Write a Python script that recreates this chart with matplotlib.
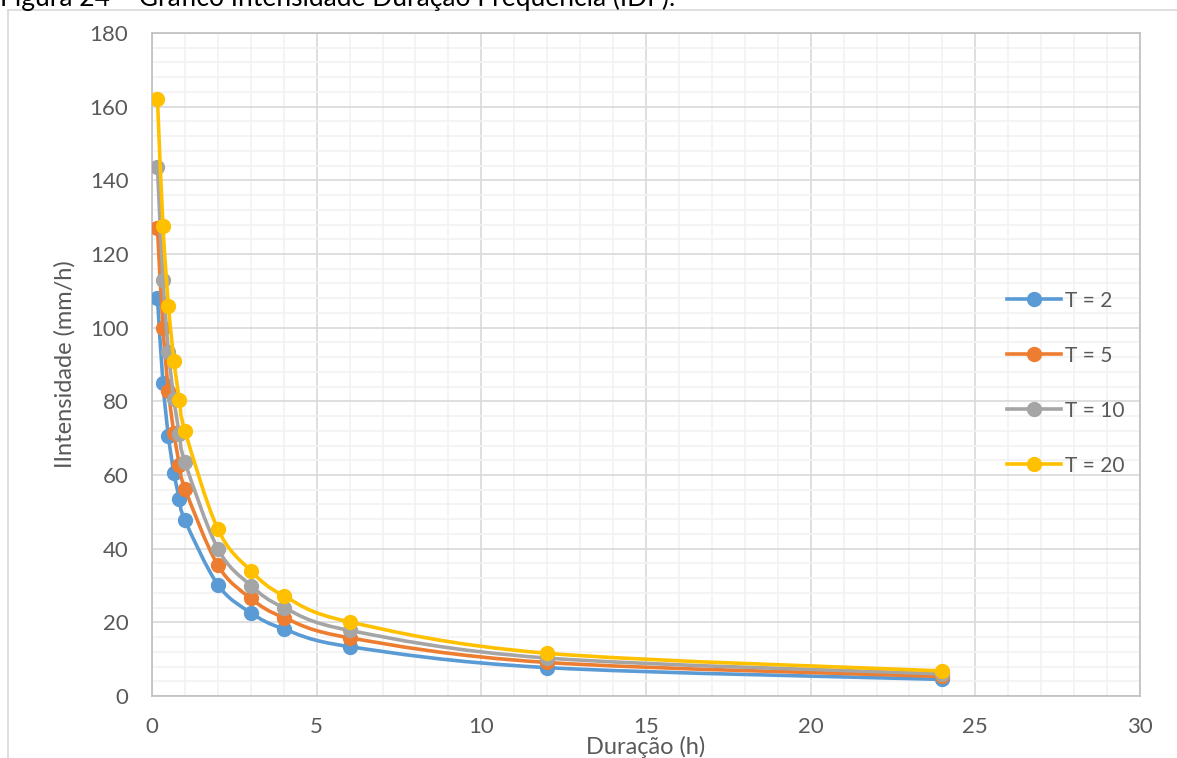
import matplotlib
matplotlib.use('Agg')
import matplotlib.pyplot as plt
import numpy as np
from matplotlib.path import Path
from matplotlib.patches import PathPatch
from matplotlib.lines import Line2D
from matplotlib.ticker import MultipleLocator

# durations (h): 10, 20, 30, 40, 50, 60 min, then 2, 3, 4, 6, 12, 24 h
duracao = [10/60, 20/60, 30/60, 40/60, 50/60, 1.0, 2, 3, 4, 6, 12, 24]
t2 = [108.0, 85.0, 70.5, 60.5, 53.5, 47.7, 30.2, 22.6, 18.2, 13.4, 7.7, 4.5]
t5 = [127.0, 100.0, 82.8, 71.3, 62.8, 56.3, 35.5, 26.5, 21.3, 15.8, 9.1, 5.3]
t10 = [143.5, 113.0, 93.5, 80.5, 71.0, 63.5, 40.0, 30.0, 24.0, 17.8, 10.3, 6.0]
t20 = [162.0, 127.5, 106.0, 91.0, 80.3, 72.0, 45.3, 34.0, 27.2, 20.1, 11.6, 6.8]
labels = ['T = 2', 'T = 5', 'T = 10', 'T = 20']
colors = ['#5B9BD5', '#ED7D31', '#A5A5A5', '#FFC000']

plt.rcParams['font.family'] = ['Lato', 'DejaVu Sans']


def smooth_path(x, y):
    # excel-like smoothed line: cubic bezier through the points
    p = np.column_stack([x, y])
    n = len(p)
    verts = [p[0]]
    codes = [Path.MOVETO]
    for i in range(n - 1):
        p0 = p[i - 1] if i > 0 else p[i]
        p3 = p[i + 2] if i + 2 < n else p[i + 1]
        c1 = p[i] + (p[i + 1] - p0) / 6.0
        c2 = p[i + 1] - (p3 - p[i]) / 6.0
        verts += [c1, c2, p[i + 1]]
        codes += [Path.CURVE4] * 3
    return Path(verts, codes)


fig = plt.figure(figsize=(11.77, 7.58), dpi=100)
ax = fig.add_axes([152/1177, 1 - 696/758, (1140-152)/1177, (696-33)/758])

handles = []
for k, (ser, c) in enumerate(zip([t2, t5, t10, t20], colors)):
    patch = PathPatch(smooth_path(duracao, ser), facecolor='none', edgecolor=c,
                      lw=2.6, zorder=3 + 2*k, capstyle='round', joinstyle='round')
    ax.add_patch(patch)
    ax.plot(duracao, ser, ls='none', marker='o', ms=10, color=c, zorder=4 + 2*k)
    handles.append(Line2D([], [], color=c, lw=2.6, marker='o', ms=10))

ax.set_xlim(0, 30)
ax.set_ylim(0, 180)
ax.xaxis.set_major_locator(MultipleLocator(5))
ax.xaxis.set_minor_locator(MultipleLocator(1))
ax.yaxis.set_major_locator(MultipleLocator(20))
ax.yaxis.set_minor_locator(MultipleLocator(4))
ax.grid(which='major', color='#d9d9d9', lw=1.2, zorder=0)
ax.grid(which='minor', color='#f2f2f2', lw=1.2, zorder=0)
ax.set_axisbelow(True)
ax.tick_params(which='both', length=0, labelsize=16, labelcolor='#595959')
ax.tick_params(axis='y', pad=17)
ax.tick_params(axis='x', pad=15)
for s in ax.spines.values():
    s.set_color('#bfbfbf')
    s.set_linewidth(1.2)

ax.set_xlabel('Duração (h)', fontsize=17, color='#595959', labelpad=-1)
ax.set_ylabel('IIntensidade (mm/h)', fontsize=17, color='#595959', labelpad=10)

leg = fig.legend(handles, labels, loc='upper left', bbox_to_anchor=(988/1177, 1 - 272/758),
                 frameon=False, fontsize=15, handlelength=2.6, labelspacing=1.68,
                 handletextpad=0.2, labelcolor='#595959')

# chart area border and the cut-off caption above it
fig.add_artist(Line2D([8/1177, 1], [1 - 9.5/758] * 2, color='#d9d9d9', lw=1.2))
fig.add_artist(Line2D([8/1177] * 2, [0, 1 - 9.5/758], color='#d9d9d9', lw=1.2))
fig.text(0, 1 - 6/758, 'Figura 24 – Gráfico Intensidade Duração Frequência (IDF).',
         fontsize=19, color='#000000', va='baseline', ha='left')

plt.savefig('out.png', dpi=100)
